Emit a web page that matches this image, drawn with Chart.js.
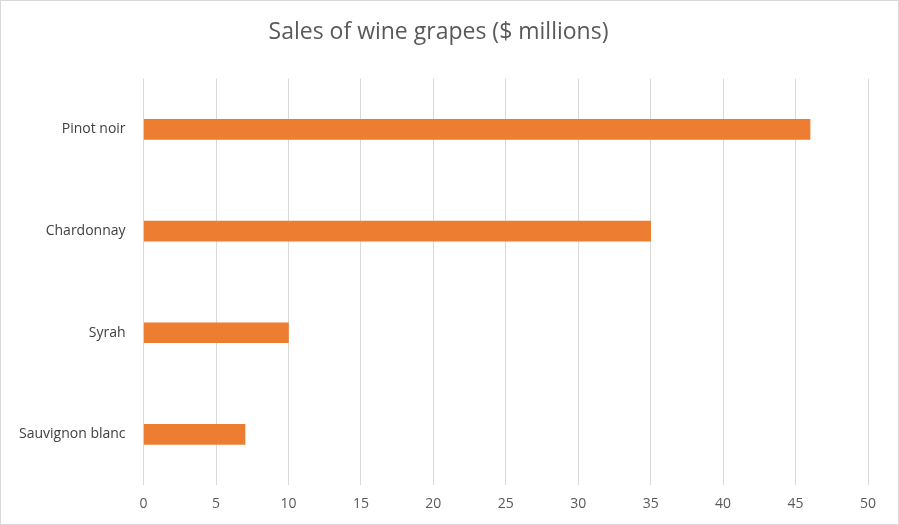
<!DOCTYPE html>
<html><head><meta charset="utf-8">
<script src="https://cdn.jsdelivr.net/npm/chart.js"></script>
<style>html,body{margin:0;padding:0;background:#fff}#w{width:897px;height:523px;border:1px solid #d9d9d9}</style>
</head><body><div id="w"><canvas id="c"></canvas></div>
<script>
const categories = ["Pinot noir","Chardonnay","Syrah","Sauvignon blanc"];
const values = [46,35,10,7];
const xTicks = [0,5,10,15,20,25,30,35,40,45,50];
new Chart(document.getElementById('c'),{
  type:'bar',
  data:{labels:categories,datasets:[{data:values,backgroundColor:'#ed7d31',barThickness:20}]},
  options:{
    indexAxis:'y',responsive:true,maintainAspectRatio:false,animation:false,
    layout:{padding:{left:8,right:30,top:10,bottom:2}},
    plugins:{legend:{display:false},tooltip:{enabled:false},
      title:{display:true,text:'Sales of wine grapes ($ millions)',color:'#595959',
        font:{family:'Open Sans',size:23,weight:'normal'},padding:{top:8,bottom:32}}},
    scales:{
      x:{min:0,max:50,afterBuildTicks:a=>{a.ticks=xTicks.map(v=>({value:v}));},
        grid:{color:'#d9d9d9',drawTicks:false},border:{display:false},
        ticks:{color:'#595959',font:{family:'Open Sans',size:14},padding:10}},
      y:{grid:{display:false},border:{display:false},
        ticks:{color:'#404040',font:{family:'Open Sans',size:14},padding:10}}
    }
  }
});
</script></body></html>
